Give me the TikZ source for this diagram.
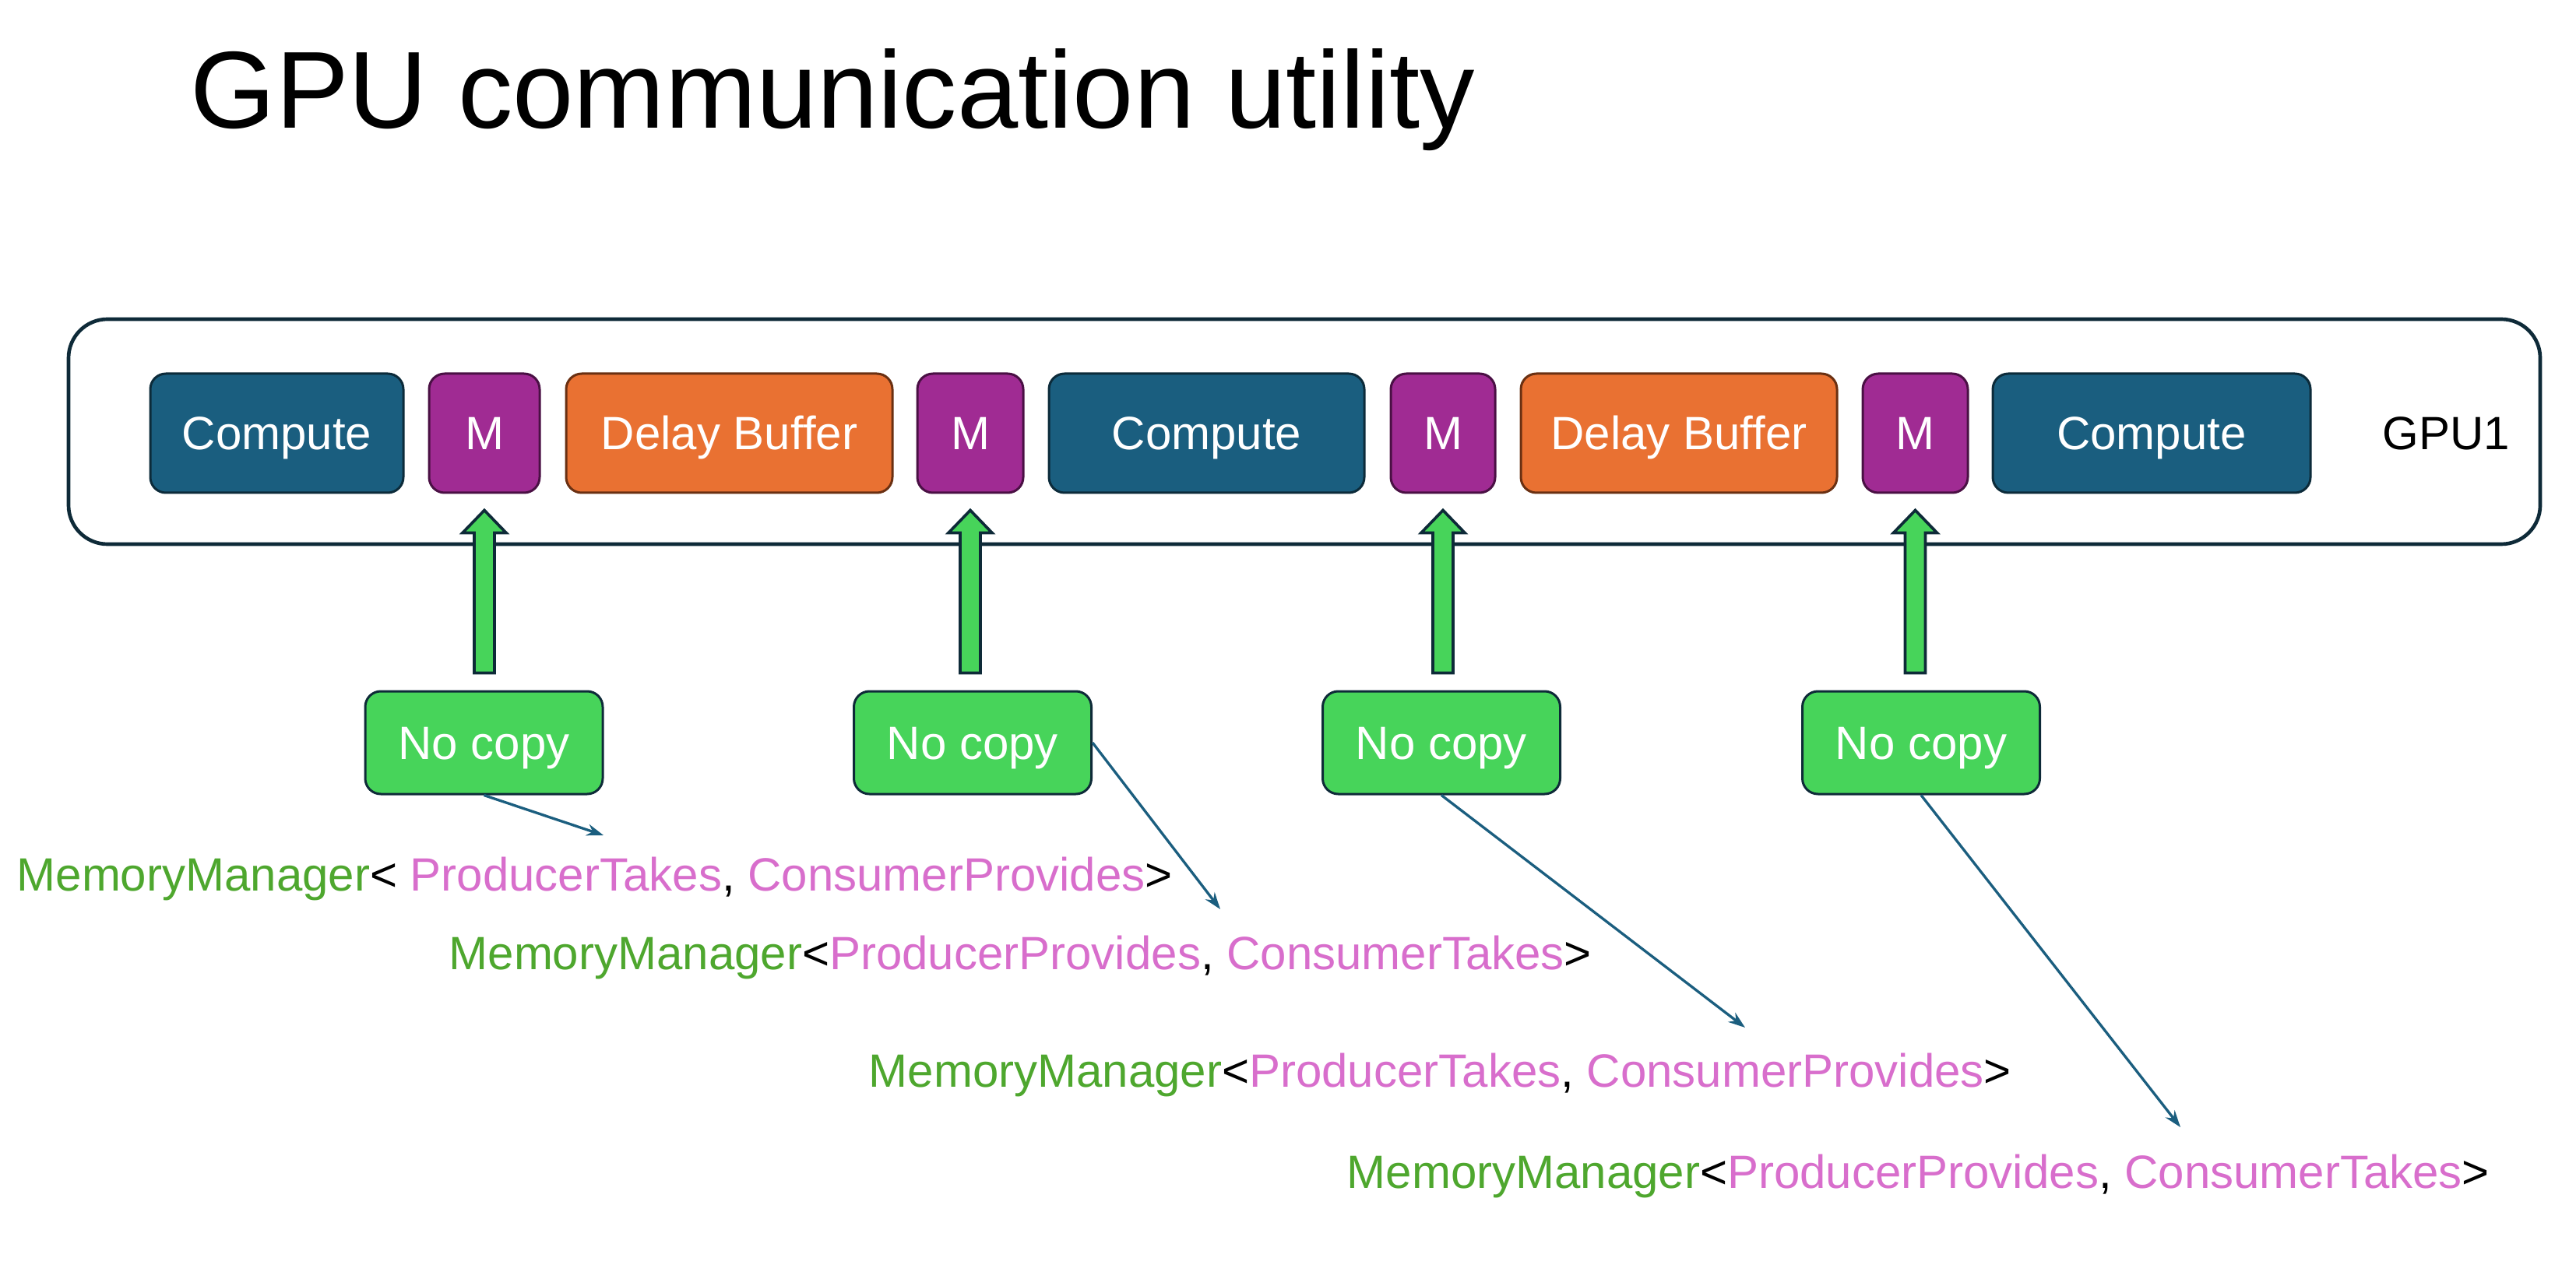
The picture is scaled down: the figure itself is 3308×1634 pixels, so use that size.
\documentclass[tikz,border=0pt]{standalone}
\usepackage{fontspec}
\setmainfont{Liberation Sans}
\usetikzlibrary{arrows.meta,calc}
\definecolor{cblue}{HTML}{1A5E7F}
\definecolor{cblueb}{HTML}{0C2B3A}
\definecolor{cmag}{HTML}{A02B93}
\definecolor{cmagb}{HTML}{4A1044}
\definecolor{corange}{HTML}{E97132}
\definecolor{corangeb}{HTML}{6A3012}
\definecolor{cgreen}{HTML}{47D45A}
\definecolor{cdark}{HTML}{0E2A38}
\definecolor{tgreen}{HTML}{4EA72E}
\definecolor{tpink}{HTML}{D86ECC}
\definecolor{clink}{HTML}{1B5E7F}
\newcommand{\lblfont}{\fontsize{18}{21}\selectfont}
\tikzset{
  blk/.style={draw, line width=0.9pt, rounded corners=6pt, minimum height=45.9pt, inner sep=0pt, text=white, font=\lblfont, text height=12.9pt, text depth=0pt},
  compute/.style={blk, fill=cblue, draw=cblueb},
  membox/.style={blk, fill=cmag, draw=cmagb},
  delay/.style={blk, fill=corange, draw=corangeb},
  nocopy/.style={blk, fill=cgreen, draw=cdark, minimum height=39.6pt, minimum width=91.5pt},
  outerbox/.style={draw=cdark, line width=1.4pt, rounded corners=15pt},
  garrow/.style={draw=cdark, fill=cgreen, line width=1.1pt, line join=miter},
  link/.style={draw=clink, line width=1pt, -{Stealth[length=6.5pt,width=4.5pt]}},
  codeline/.style={anchor=base west, inner sep=0pt, font=\lblfont}
}
\begin{document}
\begin{tikzpicture}[x=0.3pt,y=-0.3pt]
\useasboundingbox (0,0) rectangle (3308,1634);
% title
\node[anchor=base west, inner sep=0pt, font=\fontsize{42.2}{50}\selectfont] (title) at (244,165) {GPU communication utility};
% outer GPU box
\draw[outerbox] (88,410) rectangle (3262,699);
\node[font=\lblfont, inner sep=0pt, text height=12.9pt, text depth=0pt] (gpu) at (3141,556) {GPU1};
% row of blocks
\node[compute, minimum width=97.5pt] (c1) at (355.5,556.5) {Compute};
\node[membox, minimum width=42.6pt] (m1) at (622,556.5) {M};
\node[delay, minimum width=125.7pt] (d1) at (936.5,556.5) {Delay Buffer};
\node[membox, minimum width=40.8pt] (m2) at (1246,556.5) {M};
\node[compute, minimum width=121.5pt] (c2) at (1549.5,556.5) {Compute};
\node[membox, minimum width=40.2pt] (m3) at (1853,556.5) {M};
\node[delay, minimum width=121.8pt] (d2) at (2156,556.5) {Delay Buffer};
\node[membox, minimum width=40.5pt] (m4) at (2459.5,556.5) {M};
\node[compute, minimum width=122.4pt] (c3) at (2763,556.5) {Compute};
% no copy boxes
\node[nocopy] (n1) at (621.5,954) {No copy};
\node[nocopy] (n2) at (1249,954) {No copy};
\node[nocopy] (n3) at (1851,954) {No copy};
\node[nocopy] (n4) at (2467,954) {No copy};
% green block arrows
\foreach \i in {1,2,3,4}{
  \draw[garrow] let \p1=($(m\i.south)+(0,21)$), \p2=($(n\i.north)+(0,-22)$) in
    (\x1,\y1) -- (\x1+8.4pt,\y1-8.7pt) -- (\x1+3.9pt,\y1-8.7pt) -- (\x1+3.9pt,\y2)
    -- (\x1-3.9pt,\y2) -- (\x1-3.9pt,\y1-8.7pt) -- (\x1-8.4pt,\y1-8.7pt) -- cycle;
}
% code lines
\node[codeline] (l1) at (21,1144) {\textcolor{tgreen}{MemoryManager}< \textcolor{tpink}{ProducerTakes}, \textcolor{tpink}{ConsumerProvides}>};
\node[codeline] (l2) at (576,1245) {\textcolor{tgreen}{MemoryManager}<\textcolor{tpink}{ProducerProvides}, \textcolor{tpink}{ConsumerTakes}>};
\node[codeline] (l3) at (1115,1396) {\textcolor{tgreen}{MemoryManager}<\textcolor{tpink}{ProducerTakes}, \textcolor{tpink}{ConsumerProvides}>};
\node[codeline] (l4) at (1729,1526) {\textcolor{tgreen}{MemoryManager}<\textcolor{tpink}{ProducerProvides}, \textcolor{tpink}{ConsumerTakes}>};
% connectors
\coordinate (t1) at (775,1073);
\coordinate (t2) at (1567,1168);
\coordinate (t3) at (2241,1320);
\coordinate (t4) at (2800,1448);
\draw[link] (n1.south) -- (t1);
\draw[link] (n2.east) -- (t2);
\draw[link] (n3.south) -- (t3);
\draw[link] (n4.south) -- (t4);
\end{tikzpicture}
\end{document}
